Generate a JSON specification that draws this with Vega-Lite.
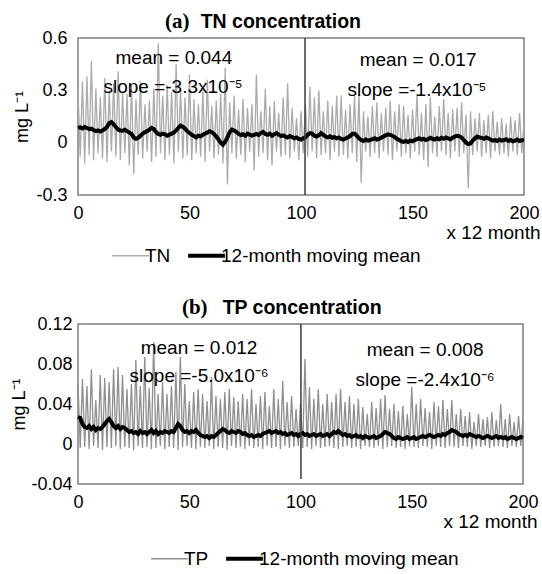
{
"$schema":"https://vega.github.io/schema/vega-lite/v6.json",
"padding":{"top":9,"left":10,"right":0,"bottom":0},
"spacing":29,
"config":{
"font":"Liberation Sans",
"view":{"stroke":"#7f7f7f","strokeWidth":1.5},
"axis":{"grid":false,"domain":false,"ticks":false,"tickSize":0,"labelFontSize":18,"labelColor":"#000","labelFont":"Liberation Sans","titleFont":"Liberation Sans","titleFontSize":18,"titleColor":"#000","titleFontWeight":"normal","labelFlush":false,"labelOverlap":false},
"text":{"font":"Liberation Sans","color":"#000"}
},
"resolve":{"scale":{"color":"independent"},"legend":{"color":"independent"}},
"datasets":{
"tn":[
{"x":0,"g":0.30,"m":0.085},{"x":1,"g":-0.08,"m":0.088},{"x":2,"g":0.35,"m":0.082},{"x":3,"g":-0.12,"m":0.09},{"x":4,"g":0.38,"m":0.084},{"x":5,"g":-0.07,"m":0.078},{"x":6,"g":0.47,"m":0.08},{"x":7,"g":-0.10,"m":0.072},{"x":8,"g":0.31,"m":0.066},{"x":9,"g":-0.06,"m":0.07},
{"x":10,"g":0.26,"m":0.064},{"x":11,"g":-0.09,"m":0.07},{"x":12,"g":0.37,"m":0.078},{"x":13,"g":-0.11,"m":0.09},{"x":14,"g":0.30,"m":0.112},{"x":15,"g":-0.05,"m":0.118},{"x":16,"g":0.34,"m":0.105},{"x":17,"g":-0.08,"m":0.09},{"x":18,"g":0.41,"m":0.075},{"x":19,"g":-0.10,"m":0.07},
{"x":20,"g":0.29,"m":0.068},{"x":21,"g":-0.06,"m":0.074},{"x":22,"g":0.28,"m":0.066},{"x":23,"g":-0.13,"m":0.058},{"x":24,"g":0.33,"m":0.05},{"x":25,"g":-0.18,"m":0.03},{"x":26,"g":0.25,"m":0.022},{"x":27,"g":-0.07,"m":0.028},{"x":28,"g":0.35,"m":0.04},{"x":29,"g":-0.09,"m":0.052},
{"x":30,"g":0.22,"m":0.06},{"x":31,"g":-0.05,"m":0.066},{"x":32,"g":0.24,"m":0.074},{"x":33,"g":-0.11,"m":0.085},{"x":34,"g":0.31,"m":0.078},{"x":35,"g":-0.08,"m":0.06},{"x":36,"g":0.57,"m":0.05},{"x":37,"g":-0.06,"m":0.045},{"x":38,"g":0.27,"m":0.052},{"x":39,"g":-0.10,"m":0.048},
{"x":40,"g":0.33,"m":0.04},{"x":41,"g":-0.07,"m":0.046},{"x":42,"g":0.29,"m":0.052},{"x":43,"g":-0.12,"m":0.058},{"x":44,"g":0.45,"m":0.07},{"x":45,"g":-0.05,"m":0.085},{"x":46,"g":0.30,"m":0.098},{"x":47,"g":-0.09,"m":0.092},{"x":48,"g":0.26,"m":0.08},{"x":49,"g":-0.07,"m":0.066},
{"x":50,"g":0.39,"m":0.055},{"x":51,"g":-0.10,"m":0.045},{"x":52,"g":0.25,"m":0.038},{"x":53,"g":-0.06,"m":0.03},{"x":54,"g":0.22,"m":0.04},{"x":55,"g":-0.08,"m":0.036},{"x":56,"g":0.30,"m":0.045},{"x":57,"g":-0.11,"m":0.052},{"x":58,"g":0.36,"m":0.058},{"x":59,"g":-0.05,"m":0.066},
{"x":60,"g":0.21,"m":0.06},{"x":61,"g":-0.09,"m":0.05},{"x":62,"g":0.24,"m":0.035},{"x":63,"g":-0.07,"m":0.018},{"x":64,"g":0.28,"m":0.0},{"x":65,"g":-0.12,"m":-0.012},{"x":66,"g":0.43,"m":0.005},{"x":67,"g":-0.24,"m":0.03},{"x":68,"g":0.23,"m":0.06},{"x":69,"g":-0.06,"m":0.075},
{"x":70,"g":0.27,"m":0.07},{"x":71,"g":-0.09,"m":0.062},{"x":72,"g":0.19,"m":0.05},{"x":73,"g":-0.07,"m":0.044},{"x":74,"g":0.25,"m":0.048},{"x":75,"g":-0.11,"m":0.04},{"x":76,"g":0.20,"m":0.052},{"x":77,"g":-0.05,"m":0.046},{"x":78,"g":0.22,"m":0.04},{"x":79,"g":-0.16,"m":0.045},
{"x":80,"g":0.39,"m":0.05},{"x":81,"g":-0.08,"m":0.044},{"x":82,"g":0.18,"m":0.055},{"x":83,"g":-0.06,"m":0.062},{"x":84,"g":0.31,"m":0.05},{"x":85,"g":-0.10,"m":0.045},{"x":86,"g":0.21,"m":0.052},{"x":87,"g":-0.13,"m":0.04},{"x":88,"g":0.24,"m":0.048},{"x":89,"g":-0.05,"m":0.055},
{"x":90,"g":0.17,"m":0.046},{"x":91,"g":-0.08,"m":0.038},{"x":92,"g":0.26,"m":0.042},{"x":93,"g":-0.07,"m":0.035},{"x":94,"g":0.34,"m":0.03},{"x":95,"g":-0.09,"m":0.038},{"x":96,"g":0.20,"m":0.032},{"x":97,"g":-0.05,"m":0.025},{"x":98,"g":0.14,"m":0.03},{"x":99,"g":-0.10,"m":0.022},
{"x":100,"g":0.18,"m":0.018},{"x":101,"g":-0.06,"m":0.025},{"x":102,"g":0.22,"m":0.03},{"x":103,"g":-0.08,"m":0.045},{"x":104,"g":0.32,"m":0.055},{"x":105,"g":-0.05,"m":0.052},{"x":106,"g":0.26,"m":0.04},{"x":107,"g":-0.09,"m":0.035},{"x":108,"g":0.30,"m":0.042},{"x":109,"g":-0.07,"m":0.055},
{"x":110,"g":0.18,"m":0.045},{"x":111,"g":-0.06,"m":0.035},{"x":112,"g":0.24,"m":0.03},{"x":113,"g":-0.10,"m":0.036},{"x":114,"g":0.21,"m":0.028},{"x":115,"g":-0.05,"m":0.032},{"x":116,"g":0.27,"m":0.025},{"x":117,"g":-0.08,"m":0.03},{"x":118,"g":0.27,"m":0.022},{"x":119,"g":-0.07,"m":0.018},
{"x":120,"g":0.19,"m":0.024},{"x":121,"g":-0.09,"m":0.03},{"x":122,"g":0.22,"m":0.038},{"x":123,"g":-0.06,"m":0.05},{"x":124,"g":0.27,"m":0.052},{"x":125,"g":-0.11,"m":0.04},{"x":126,"g":0.28,"m":0.025},{"x":127,"g":-0.23,"m":0.015},{"x":128,"g":0.18,"m":0.01},{"x":129,"g":-0.05,"m":0.018},
{"x":130,"g":0.15,"m":0.012},{"x":131,"g":-0.08,"m":0.015},{"x":132,"g":0.21,"m":0.02},{"x":133,"g":-0.06,"m":0.025},{"x":134,"g":0.23,"m":0.018},{"x":135,"g":-0.09,"m":0.022},{"x":136,"g":0.17,"m":0.03},{"x":137,"g":-0.05,"m":0.035},{"x":138,"g":0.20,"m":0.042},{"x":139,"g":-0.07,"m":0.048},
{"x":140,"g":0.24,"m":0.045},{"x":141,"g":-0.10,"m":0.04},{"x":142,"g":0.18,"m":0.032},{"x":143,"g":-0.05,"m":0.022},{"x":144,"g":0.22,"m":0.015},{"x":145,"g":-0.08,"m":0.008},{"x":146,"g":0.21,"m":0.005},{"x":147,"g":-0.06,"m":0.01},{"x":148,"g":0.16,"m":0.004},{"x":149,"g":-0.09,"m":0.012},
{"x":150,"g":0.19,"m":0.008},{"x":151,"g":-0.05,"m":0.015},{"x":152,"g":0.28,"m":0.02},{"x":153,"g":-0.07,"m":0.025},{"x":154,"g":0.17,"m":0.018},{"x":155,"g":-0.10,"m":0.022},{"x":156,"g":0.22,"m":0.015},{"x":157,"g":-0.14,"m":0.02},{"x":158,"g":0.26,"m":0.028},{"x":159,"g":-0.06,"m":0.022},
{"x":160,"g":0.15,"m":0.018},{"x":161,"g":-0.08,"m":0.025},{"x":162,"g":0.21,"m":0.02},{"x":163,"g":-0.05,"m":0.028},{"x":164,"g":0.25,"m":0.022},{"x":165,"g":-0.07,"m":0.03},{"x":166,"g":0.17,"m":0.025},{"x":167,"g":-0.09,"m":0.02},{"x":168,"g":0.19,"m":0.028},{"x":169,"g":-0.05,"m":0.035},
{"x":170,"g":0.20,"m":0.04},{"x":171,"g":-0.08,"m":0.038},{"x":172,"g":0.23,"m":0.03},{"x":173,"g":-0.06,"m":0.015},{"x":174,"g":0.16,"m":0.0},{"x":175,"g":-0.26,"m":-0.008},{"x":176,"g":0.18,"m":-0.005},{"x":177,"g":-0.07,"m":0.012},{"x":178,"g":0.14,"m":0.025},{"x":179,"g":-0.05,"m":0.035},
{"x":180,"g":0.17,"m":0.03},{"x":181,"g":-0.08,"m":0.028},{"x":182,"g":0.13,"m":0.022},{"x":183,"g":-0.06,"m":0.03},{"x":184,"g":0.16,"m":0.025},{"x":185,"g":-0.09,"m":0.018},{"x":186,"g":0.18,"m":0.012},{"x":187,"g":-0.05,"m":0.015},{"x":188,"g":0.12,"m":0.01},{"x":189,"g":-0.07,"m":0.018},
{"x":190,"g":0.14,"m":0.012},{"x":191,"g":-0.06,"m":0.015},{"x":192,"g":0.11,"m":0.02},{"x":193,"g":-0.08,"m":0.01},{"x":194,"g":0.15,"m":0.015},{"x":195,"g":-0.05,"m":0.008},{"x":196,"g":0.13,"m":0.012},{"x":197,"g":-0.07,"m":0.018},{"x":198,"g":0.17,"m":0.01},{"x":199,"g":-0.06,"m":0.015},
{"x":200,"g":0.12,"m":0.012}
],
"tp":[
{"x":0,"g":0.060,"m":0.027},{"x":1,"g":-0.004,"m":0.026},{"x":2,"g":0.065,"m":0.02},{"x":3,"g":-0.003,"m":0.017},{"x":4,"g":0.058,"m":0.016},{"x":5,"g":-0.005,"m":0.018},{"x":6,"g":0.075,"m":0.015},{"x":7,"g":-0.002,"m":0.017},{"x":8,"g":0.044,"m":0.014},{"x":9,"g":-0.004,"m":0.016},
{"x":10,"g":0.069,"m":0.015},{"x":11,"g":-0.006,"m":0.017},{"x":12,"g":0.066,"m":0.02},{"x":13,"g":-0.003,"m":0.023},{"x":14,"g":0.062,"m":0.025},{"x":15,"g":-0.004,"m":0.022},{"x":16,"g":0.075,"m":0.018},{"x":17,"g":-0.002,"m":0.016},{"x":18,"g":0.077,"m":0.018},{"x":19,"g":-0.005,"m":0.015},
{"x":20,"g":0.069,"m":0.017},{"x":21,"g":-0.003,"m":0.016},{"x":22,"g":0.055,"m":0.014},{"x":23,"g":-0.004,"m":0.012},{"x":24,"g":0.060,"m":0.013},{"x":25,"g":-0.006,"m":0.011},{"x":26,"g":0.084,"m":0.012},{"x":27,"g":-0.002,"m":0.01},{"x":28,"g":0.058,"m":0.013},{"x":29,"g":-0.004,"m":0.011},
{"x":30,"g":0.087,"m":0.012},{"x":31,"g":-0.003,"m":0.01},{"x":32,"g":0.056,"m":0.012},{"x":33,"g":-0.005,"m":0.014},{"x":34,"g":0.102,"m":0.011},{"x":35,"g":-0.004,"m":0.013},{"x":36,"g":0.050,"m":0.01},{"x":37,"g":-0.002,"m":0.012},{"x":38,"g":0.062,"m":0.011},{"x":39,"g":-0.005,"m":0.013},
{"x":40,"g":0.050,"m":0.012},{"x":41,"g":-0.003,"m":0.011},{"x":42,"g":0.058,"m":0.013},{"x":43,"g":-0.004,"m":0.012},{"x":44,"g":0.072,"m":0.016},{"x":45,"g":-0.006,"m":0.02},{"x":46,"g":0.087,"m":0.018},{"x":47,"g":-0.003,"m":0.014},{"x":48,"g":0.060,"m":0.012},{"x":49,"g":-0.002,"m":0.013},
{"x":50,"g":0.043,"m":0.011},{"x":51,"g":-0.004,"m":0.013},{"x":52,"g":0.052,"m":0.012},{"x":53,"g":-0.005,"m":0.014},{"x":54,"g":0.055,"m":0.011},{"x":55,"g":-0.003,"m":0.009},{"x":56,"g":0.050,"m":0.008},{"x":57,"g":-0.004,"m":0.007},{"x":58,"g":0.043,"m":0.008},{"x":59,"g":-0.002,"m":0.006},
{"x":60,"g":0.067,"m":0.008},{"x":61,"g":-0.005,"m":0.007},{"x":62,"g":0.048,"m":0.009},{"x":63,"g":-0.003,"m":0.011},{"x":64,"g":0.045,"m":0.013},{"x":65,"g":-0.004,"m":0.015},{"x":66,"g":0.052,"m":0.014},{"x":67,"g":-0.006,"m":0.012},{"x":68,"g":0.055,"m":0.011},{"x":69,"g":-0.002,"m":0.013},
{"x":70,"g":0.047,"m":0.012},{"x":71,"g":-0.004,"m":0.011},{"x":72,"g":0.043,"m":0.013},{"x":73,"g":-0.003,"m":0.012},{"x":74,"g":0.050,"m":0.01},{"x":75,"g":-0.005,"m":0.011},{"x":76,"g":0.045,"m":0.009},{"x":77,"g":-0.002,"m":0.008},{"x":78,"g":0.055,"m":0.009},{"x":79,"g":-0.004,"m":0.007},
{"x":80,"g":0.040,"m":0.008},{"x":81,"g":-0.003,"m":0.009},{"x":82,"g":0.048,"m":0.008},{"x":83,"g":-0.005,"m":0.01},{"x":84,"g":0.052,"m":0.011},{"x":85,"g":-0.002,"m":0.012},{"x":86,"g":0.038,"m":0.013},{"x":87,"g":-0.004,"m":0.011},{"x":88,"g":0.055,"m":0.012},{"x":89,"g":-0.003,"m":0.013},
{"x":90,"g":0.045,"m":0.011},{"x":91,"g":-0.005,"m":0.012},{"x":92,"g":0.063,"m":0.01},{"x":93,"g":-0.002,"m":0.011},{"x":94,"g":0.042,"m":0.009},{"x":95,"g":-0.004,"m":0.01},{"x":96,"g":0.048,"m":0.011},{"x":97,"g":-0.003,"m":0.009},{"x":98,"g":0.035,"m":0.01},{"x":99,"g":-0.002,"m":0.008},
{"x":100,"g":0.040,"m":0.01},{"x":101,"g":-0.004,"m":0.011},{"x":102,"g":0.085,"m":0.009},{"x":103,"g":-0.003,"m":0.01},{"x":104,"g":0.057,"m":0.008},{"x":105,"g":-0.005,"m":0.009},{"x":106,"g":0.045,"m":0.01},{"x":107,"g":-0.002,"m":0.008},{"x":108,"g":0.055,"m":0.009},{"x":109,"g":-0.004,"m":0.01},
{"x":110,"g":0.040,"m":0.008},{"x":111,"g":-0.003,"m":0.009},{"x":112,"g":0.050,"m":0.01},{"x":113,"g":-0.002,"m":0.008},{"x":114,"g":0.042,"m":0.01},{"x":115,"g":-0.004,"m":0.012},{"x":116,"g":0.050,"m":0.011},{"x":117,"g":-0.005,"m":0.013},{"x":118,"g":0.055,"m":0.011},{"x":119,"g":-0.003,"m":0.009},
{"x":120,"g":0.042,"m":0.01},{"x":121,"g":-0.002,"m":0.008},{"x":122,"g":0.048,"m":0.009},{"x":123,"g":-0.004,"m":0.007},{"x":124,"g":0.040,"m":0.008},{"x":125,"g":-0.003,"m":0.009},{"x":126,"g":0.045,"m":0.007},{"x":127,"g":-0.005,"m":0.008},{"x":128,"g":0.037,"m":0.006},{"x":129,"g":-0.002,"m":0.008},
{"x":130,"g":0.030,"m":0.007},{"x":131,"g":-0.003,"m":0.006},{"x":132,"g":0.042,"m":0.007},{"x":133,"g":-0.004,"m":0.008},{"x":134,"g":0.036,"m":0.006},{"x":135,"g":-0.002,"m":0.007},{"x":136,"g":0.045,"m":0.008},{"x":137,"g":-0.005,"m":0.01},{"x":138,"g":0.049,"m":0.012},{"x":139,"g":-0.003,"m":0.011},
{"x":140,"g":0.035,"m":0.01},{"x":141,"g":-0.002,"m":0.008},{"x":142,"g":0.040,"m":0.006},{"x":143,"g":-0.004,"m":0.005},{"x":144,"g":0.033,"m":0.007},{"x":145,"g":-0.003,"m":0.006},{"x":146,"g":0.038,"m":0.005},{"x":147,"g":-0.005,"m":0.006},{"x":148,"g":0.030,"m":0.007},{"x":149,"g":-0.002,"m":0.005},
{"x":150,"g":0.057,"m":0.006},{"x":151,"g":-0.003,"m":0.007},{"x":152,"g":0.040,"m":0.005},{"x":153,"g":-0.004,"m":0.006},{"x":154,"g":0.045,"m":0.007},{"x":155,"g":-0.002,"m":0.008},{"x":156,"g":0.036,"m":0.007},{"x":157,"g":-0.003,"m":0.008},{"x":158,"g":0.032,"m":0.009},{"x":159,"g":-0.005,"m":0.008},
{"x":160,"g":0.042,"m":0.007},{"x":161,"g":-0.002,"m":0.008},{"x":162,"g":0.038,"m":0.009},{"x":163,"g":-0.003,"m":0.008},{"x":164,"g":0.044,"m":0.01},{"x":165,"g":-0.004,"m":0.009},{"x":166,"g":0.035,"m":0.011},{"x":167,"g":-0.002,"m":0.012},{"x":168,"g":0.044,"m":0.014},{"x":169,"g":-0.003,"m":0.013},
{"x":170,"g":0.030,"m":0.012},{"x":171,"g":-0.004,"m":0.01},{"x":172,"g":0.035,"m":0.009},{"x":173,"g":-0.002,"m":0.008},{"x":174,"g":0.028,"m":0.009},{"x":175,"g":-0.003,"m":0.008},{"x":176,"g":0.032,"m":0.01},{"x":177,"g":-0.005,"m":0.009},{"x":178,"g":0.022,"m":0.008},{"x":179,"g":-0.002,"m":0.007},
{"x":180,"g":0.030,"m":0.008},{"x":181,"g":-0.003,"m":0.007},{"x":182,"g":0.025,"m":0.006},{"x":183,"g":-0.002,"m":0.007},{"x":184,"g":0.027,"m":0.008},{"x":185,"g":-0.004,"m":0.007},{"x":186,"g":0.032,"m":0.006},{"x":187,"g":-0.003,"m":0.007},{"x":188,"g":0.024,"m":0.008},{"x":189,"g":-0.002,"m":0.006},
{"x":190,"g":0.040,"m":0.007},{"x":191,"g":-0.003,"m":0.006},{"x":192,"g":0.025,"m":0.007},{"x":193,"g":-0.004,"m":0.005},{"x":194,"g":0.030,"m":0.006},{"x":195,"g":-0.002,"m":0.007},{"x":196,"g":0.022,"m":0.006},{"x":197,"g":-0.003,"m":0.005},{"x":198,"g":0.028,"m":0.006},{"x":199,"g":-0.002,"m":0.007},
{"x":200,"g":0.025,"m":0.006}
]
},
"vconcat":[
{
"width":446,"height":157,
"data":{"name":"tn"},
"encoding":{"x":{"field":"x","type":"quantitative","scale":{"domain":[0,200],"nice":false,"zero":false},"axis":{"values":[0,50,100,150,200],"tickCount":10,"labelExpr":"toString(datum.value)","labelPadding":9,"labelOverlap":false,"title":"x 12 month","titleFontSize":19,"titleAlign":"right","titleX":462,"titlePadding":1}}},
"layer":[
{"mark":{"type":"line","strokeWidth":1.3},
"encoding":{"y":{"field":"g","type":"quantitative","title":"mg L⁻¹","scale":{"domain":[-0.3,0.6],"nice":false,"zero":false},"axis":{"values":[-0.3,0,0.3,0.6],"tickCount":10,"labelExpr":"toString(datum.value)","labelOverlap":false,"labelPadding":11,"titlePadding":4}},
"color":{"datum":"TN","type":"nominal","scale":{"domain":["TN","12-month moving mean"],"range":["#ababab","#000000"]},
"legend":{"orient":"none","legendX":43,"legendY":208,"direction":"horizontal","title":null,"symbolType":"stroke","symbolSize":1350,"labelFontSize":19,"labelLimit":400,"labelColor":"#000","labelFont":"Liberation Sans","columnPadding":9,"labelOffset":5,"encode":{"symbols":{"update":{"strokeWidth":{"signal":"datum.value === 'TN' ? 1.3 : 4"}}}}}}}},
{"mark":{"type":"line","strokeWidth":4},
"encoding":{"y":{"field":"m","type":"quantitative","title":"mg L⁻¹"},"color":{"datum":"12-month moving mean","type":"nominal"}}},
{"data":{"values":[{"x":101.8,"y":-0.3,"y2":0.6}]},"mark":{"type":"rule","color":"#3a3a3a","strokeWidth":1.5},
"encoding":{"y":{"field":"y","type":"quantitative","title":"mg L⁻¹"},"y2":{"field":"y2"}}},
{"data":{"values":[{"x":43,"y":0.451,"t":"mean = 0.044"},{"x":42.6,"y":0.284,"t":"slope =-3.3x10⁻⁵"},{"x":152.5,"y":0.439,"t":"mean = 0.017"},{"x":152,"y":0.267,"t":"slope =-1.4x10⁻⁵"}]},
"mark":{"type":"text","fontSize":19,"align":"center","baseline":"alphabetic"},
"encoding":{"y":{"field":"y","type":"quantitative","title":"mg L⁻¹"},"text":{"field":"t"}}},
{"data":{"values":[{"x":39,"y":0.659,"t":"(a)"}]},
"mark":{"type":"text","font":"Liberation Serif","fontWeight":"bold","fontSize":21,"align":"left","baseline":"alphabetic"},
"encoding":{"y":{"field":"y","type":"quantitative","title":"mg L⁻¹"},"text":{"field":"t"}}},
{"data":{"values":[{"x":55,"y":0.659,"t":"TN concentration"}]},
"mark":{"type":"text","fontWeight":"bold","fontSize":19.5,"align":"left","baseline":"alphabetic"},
"encoding":{"y":{"field":"y","type":"quantitative","title":"mg L⁻¹"},"text":{"field":"t"}}}
]
},
{
"width":445,"height":160,
"data":{"name":"tp"},
"encoding":{"x":{"field":"x","type":"quantitative","scale":{"domain":[0,200],"nice":false,"zero":false},"axis":{"values":[0,50,100,150,200],"tickCount":10,"labelExpr":"toString(datum.value)","labelPadding":9,"labelOverlap":false,"title":"x 12 month","titleFontSize":19,"titleAlign":"right","titleX":459,"titlePadding":1}}},
"layer":[
{"mark":{"type":"line","strokeWidth":1.3},
"encoding":{"y":{"field":"g","type":"quantitative","title":"mg L⁻¹","scale":{"domain":[-0.04,0.12],"nice":false,"zero":false},"axis":{"values":[-0.04,0,0.04,0.08,0.12],"tickCount":10,"labelExpr":"toString(datum.value)","labelOverlap":false,"labelPadding":6,"titlePadding":2}},
"color":{"datum":"TP","type":"nominal","scale":{"domain":["TP","12-month moving mean"],"range":["#8f8f8f","#000000"]},
"legend":{"orient":"none","legendX":82,"legendY":225,"direction":"horizontal","title":null,"symbolType":"stroke","symbolSize":1350,"labelFontSize":19,"labelLimit":400,"labelColor":"#000","labelFont":"Liberation Sans","columnPadding":9,"labelOffset":5,"encode":{"symbols":{"update":{"strokeWidth":{"signal":"datum.value === 'TP' ? 1.3 : 4"}}}}}}}},
{"mark":{"type":"line","strokeWidth":4},
"encoding":{"y":{"field":"m","type":"quantitative","title":"mg L⁻¹"},"color":{"datum":"12-month moving mean","type":"nominal"}}},
{"data":{"values":[{"x":100.2,"y":-0.035,"y2":0.12}]},"mark":{"type":"rule","color":"#3a3a3a","strokeWidth":1.5},
"encoding":{"y":{"field":"y","type":"quantitative","title":"mg L⁻¹"},"y2":{"field":"y2"}}},
{"data":{"values":[{"x":54.4,"y":0.09,"t":"mean = 0.012"},{"x":54.4,"y":0.062,"t":"slope =-5.0x10⁻⁶"},{"x":156,"y":0.088,"t":"mean = 0.008"},{"x":156,"y":0.058,"t":"slope =-2.4x10⁻⁶"}]},
"mark":{"type":"text","fontSize":19,"align":"center","baseline":"alphabetic"},
"encoding":{"y":{"field":"y","type":"quantitative","title":"mg L⁻¹"},"text":{"field":"t"}}},
{"data":{"values":[{"x":46.7,"y":0.13,"t":"(b)"}]},
"mark":{"type":"text","font":"Liberation Serif","fontWeight":"bold","fontSize":21,"align":"left","baseline":"alphabetic"},
"encoding":{"y":{"field":"y","type":"quantitative","title":"mg L⁻¹"},"text":{"field":"t"}}},
{"data":{"values":[{"x":65,"y":0.13,"t":"TP concentration"}]},
"mark":{"type":"text","fontWeight":"bold","fontSize":19.5,"align":"left","baseline":"alphabetic"},
"encoding":{"y":{"field":"y","type":"quantitative","title":"mg L⁻¹"},"text":{"field":"t"}}}
]
}
]
}
